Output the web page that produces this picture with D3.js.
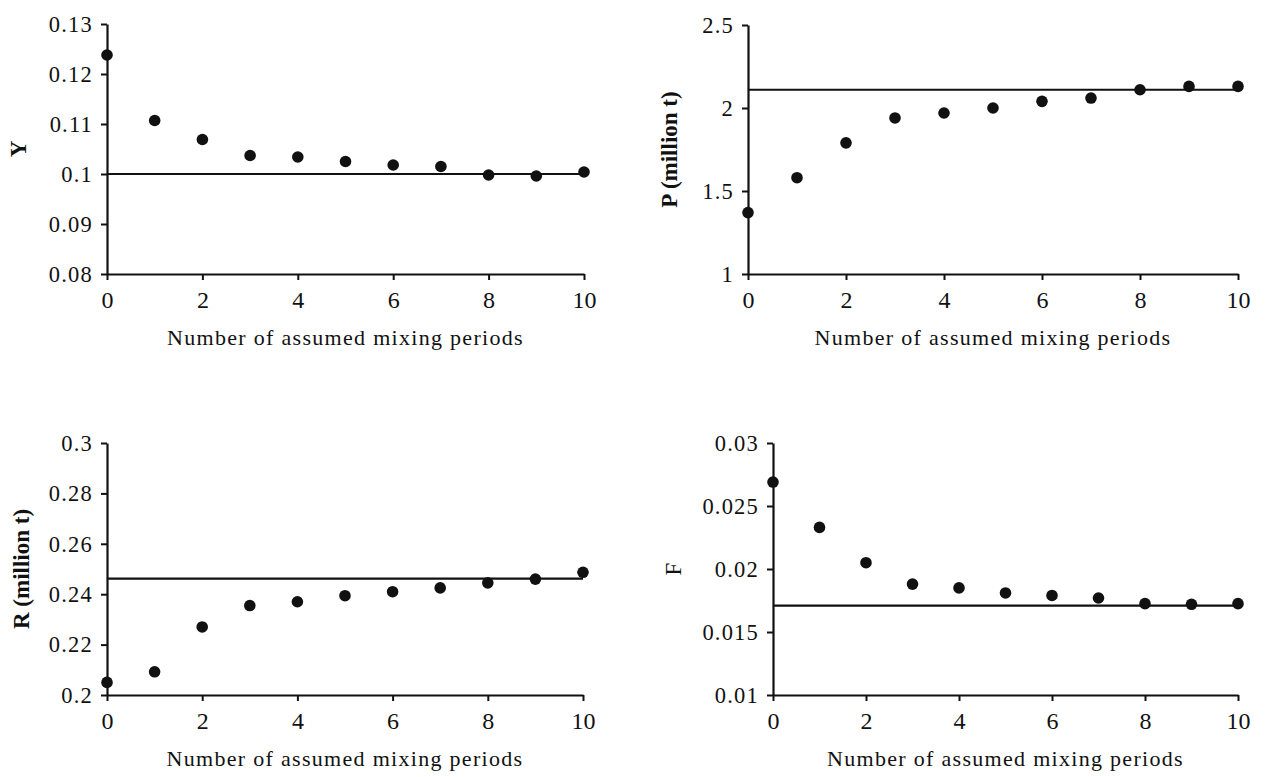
<!DOCTYPE html>
<html>
<head>
<meta charset="utf-8">
<script src="https://cdn.jsdelivr.net/npm/d3@7"></script>
<style>
  body { margin: 0; background: #fff; }
  text { font-family: "Liberation Serif", "Times New Roman", serif; fill: #111; }
</style>
</head>
<body>
<svg id="chart" width="1268" height="777"></svg>
<script>
// DATA
const periods = [0, 1, 2, 3, 4, 5, 6, 7, 8, 9, 10];
const xTicks = [0, 2, 4, 6, 8, 10];
const xTitle = "Number of assumed mixing periods";

const yLabelY = "Y";
const yValuesY = [0.1238, 0.1107, 0.1069, 0.1037, 0.1034, 0.1025, 0.1018, 0.1015, 0.0998, 0.0996, 0.1004];
const yRefY = 0.1;
const yTicksY = [0.08, 0.09, 0.1, 0.11, 0.12, 0.13];

const yLabelP = "P (million t)";
const yValuesP = [1.37, 1.58, 1.79, 1.94, 1.97, 2.0, 2.04, 2.06, 2.11, 2.13, 2.13];
const yRefP = 2.11;
const yTicksP = [1, 1.5, 2, 2.5];

const yLabelR = "R (million t)";
const yValuesR = [0.205, 0.2092, 0.227, 0.2355, 0.237, 0.2394, 0.241, 0.2425, 0.2445, 0.246, 0.2487];
const yRefR = 0.2462;
const yTicksR = [0.2, 0.22, 0.24, 0.26, 0.28, 0.3];

const yLabelF = "F";
const yValuesF = [0.0269, 0.0233, 0.0205, 0.0188, 0.0185, 0.0181, 0.0179, 0.0177, 0.01725, 0.0172, 0.01725];
const yRefF = 0.0171;
const yTicksF = [0.01, 0.015, 0.02, 0.025, 0.03];

// LAYOUT (plot boxes in page pixels)
const panels = [
  { label: yLabelY, values: yValuesY, ref: yRefY, ticks: yTicksY, bold: true,
    left: 107, right: 584, top: 24, bottom: 274, labelX: 18 },
  { label: yLabelP, values: yValuesP, ref: yRefP, ticks: yTicksP, bold: true,
    left: 748, right: 1238, top: 25, bottom: 274, labelX: 669 },
  { label: yLabelR, values: yValuesR, ref: yRefR, ticks: yTicksR, bold: true,
    left: 107, right: 583, top: 443, bottom: 695, labelX: 21 },
  { label: yLabelF, values: yValuesF, ref: yRefF, ticks: yTicksF, bold: false,
    left: 773, right: 1238, top: 443, bottom: 695, labelX: 673 }
];

const svg = d3.select("#chart");

function drawPanel(p) {
  const g = svg.append("g").attr("class", "panel");

  const xScale = d3.scaleLinear().domain([0, 10]).range([p.left, p.right]);
  const yScale = d3.scaleLinear().domain(d3.extent(p.ticks)).range([p.bottom, p.top]);

  // y axis
  const yAxis = d3.axisLeft(yScale)
    .tickValues(p.ticks)
    .tickFormat(d => String(d))
    .tickSize(6)
    .tickSizeOuter(0)
    .tickPadding(8);
  const yAxisG = g.append("g")
    .attr("transform", `translate(${p.left},0)`)
    .call(yAxis);

  // x axis
  const xAxis = d3.axisBottom(xScale)
    .tickValues(xTicks)
    .tickSize(6)
    .tickSizeOuter(0)
    .tickPadding(11);
  const xAxisG = g.append("g")
    .attr("transform", `translate(0,${p.bottom})`)
    .call(xAxis);

  [yAxisG, xAxisG].forEach(a => {
    a.attr("font-family", null).attr("font-size", null);
    a.select(".domain").attr("stroke", "#111").attr("stroke-width", 2.2);
    a.selectAll(".tick line").attr("stroke", "#111").attr("stroke-width", 2);
  });
  yAxisG.selectAll(".tick text").style("font-size", "22.5px").style("letter-spacing", "1.2px");
  xAxisG.selectAll(".tick text").style("font-size", "24px");

  // reference line
  g.append("line")
    .attr("x1", xScale(0))
    .attr("x2", xScale(10))
    .attr("y1", yScale(p.ref))
    .attr("y2", yScale(p.ref))
    .attr("stroke", "#111")
    .attr("stroke-width", 2.2);

  // points
  g.selectAll("circle")
    .data(p.values)
    .join("circle")
      .attr("cx", (d, i) => xScale(periods[i]))
      .attr("cy", d => yScale(d))
      .attr("r", 5.8)
      .attr("fill", "#111");

  // y label
  g.append("text")
    .attr("transform", `translate(${p.labelX},${(p.top + p.bottom) / 2}) rotate(-90)`)
    .attr("text-anchor", "middle")
    .attr("dy", "0.35em")
    .style("font-size", "23px")
    .style("font-weight", p.bold ? "bold" : "normal")
    .text(p.label);

  // x title
  g.append("text")
    .attr("x", (p.left + p.right) / 2)
    .attr("y", p.bottom + 71)
    .attr("text-anchor", "middle")
    .style("font-size", "22px")
    .style("letter-spacing", "1.3px")
    .text(xTitle);
}

panels.forEach(drawPanel);
</script>
</body>
</html>
